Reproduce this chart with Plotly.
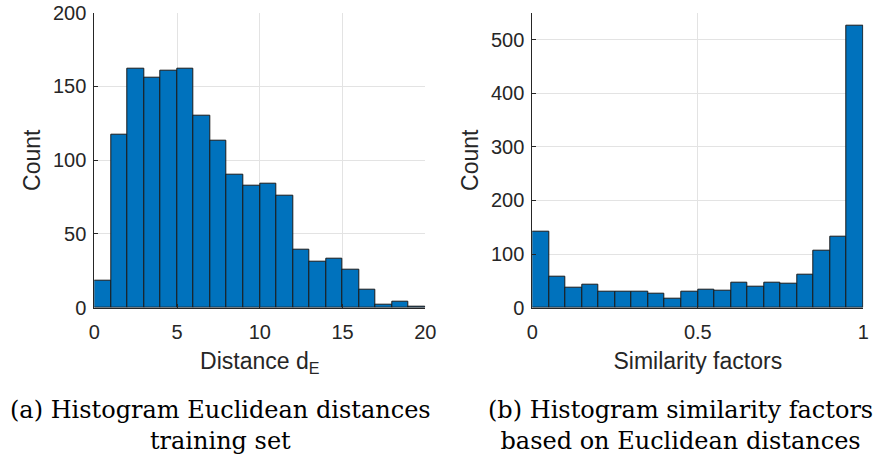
import plotly.graph_objects as go

# Left histogram: Euclidean distances (bin edges 0..20, width 1)
dist_edges = list(range(0, 21))
dist_counts = [18, 117, 162, 156, 161, 162, 130, 113, 90, 83, 84, 76, 39, 31, 33, 26, 12, 2, 4, 1]

# Right histogram: similarity factors (bin edges 0..1, width 0.05)
sim_edges = [i * 0.05 for i in range(21)]
sim_counts = [142, 58, 38, 42, 29, 29, 29, 27, 16, 29, 34, 31, 47, 40, 47, 44, 62, 107, 132, 526]

left_xticks = [0, 5, 10, 15, 20]
left_yticks = [0, 50, 100, 150, 200]
right_xticks = [0, 0.5, 1]
right_xticklabels = ["0", "0.5", "1"]
right_yticks = [0, 100, 200, 300, 400, 500]

caption_a = "(a) Histogram Euclidean distances<br>training set"
caption_b = "(b) Histogram similarity factors<br>based on Euclidean distances"

BAR = "#0072BD"
AX = "#262626"
GRID = "#E3E3E3"
TICKFONT = dict(family="Liberation Sans, Arial", size=20, color=AX)
TITLEFONT = dict(family="Liberation Sans, Arial", size=23, color=AX)

def centers(edges):
    return [(edges[i] + edges[i + 1]) / 2 for i in range(len(edges) - 1)]

def widths(edges):
    return [edges[i + 1] - edges[i] for i in range(len(edges) - 1)]

fig = go.Figure()
fig.add_trace(go.Bar(x=centers(dist_edges), y=dist_counts, width=widths(dist_edges),
                     marker=dict(color=BAR, line=dict(color="#1a1a1a", width=1)),
                     xaxis="x", yaxis="y", showlegend=False))
fig.add_trace(go.Bar(x=centers(sim_edges), y=sim_counts, width=widths(sim_edges),
                     marker=dict(color=BAR, line=dict(color="#1a1a1a", width=1)),
                     xaxis="x2", yaxis="y2", showlegend=False))

H = 462.0
ydom = [1 - 307.7 / H, 1 - 12.7 / H]

common = dict(showline=True, linecolor=AX, linewidth=1, ticks="inside", ticklen=4,
              tickcolor=AX, showgrid=True, gridcolor=GRID, gridwidth=1, zeroline=False,
              tickfont=TICKFONT, automargin=False, title_font=TITLEFONT)

fig.update_layout(
    width=879, height=462,
    margin=dict(l=0, r=0, t=0, b=0),
    paper_bgcolor="white", plot_bgcolor="white",
    bargap=0,
    xaxis=dict(domain=[94.3 / 879, 425.3 / 879], range=[0, 20], tickvals=left_xticks,
               anchor="y", ticklabelstandoff=6,
               title=dict(text="Distance d<sub>E</sub>", standoff=11), **common),
    yaxis=dict(domain=ydom, range=[0, 200], tickvals=left_yticks, anchor="x",
               ticklabelstandoff=3,
               title=dict(text="Count", standoff=5), **common),
    xaxis2=dict(domain=[532.3 / 879, 863.3 / 879], range=[0, 1], tickvals=right_xticks,
                ticktext=right_xticklabels, anchor="y2", ticklabelstandoff=6,
                title=dict(text="Similarity factors", standoff=11), **common),
    yaxis2=dict(domain=ydom, range=[0, 550], tickvals=right_yticks, anchor="x2",
                ticklabelstandoff=3,
                title=dict(text="Count", standoff=5), **common),
    annotations=[
        dict(text=caption_a, x=220 / 879, y=1 - 425 / H, xref="paper", yref="paper",
             showarrow=False, xanchor="center", yanchor="middle",
             font=dict(family="DejaVu Serif", size=24, color="black")),
        dict(text=caption_b, x=680 / 879, y=1 - 425 / H, xref="paper", yref="paper",
             showarrow=False, xanchor="center", yanchor="middle",
             font=dict(family="DejaVu Serif", size=24, color="black")),
    ],
)

fig.write_html("out.html")
